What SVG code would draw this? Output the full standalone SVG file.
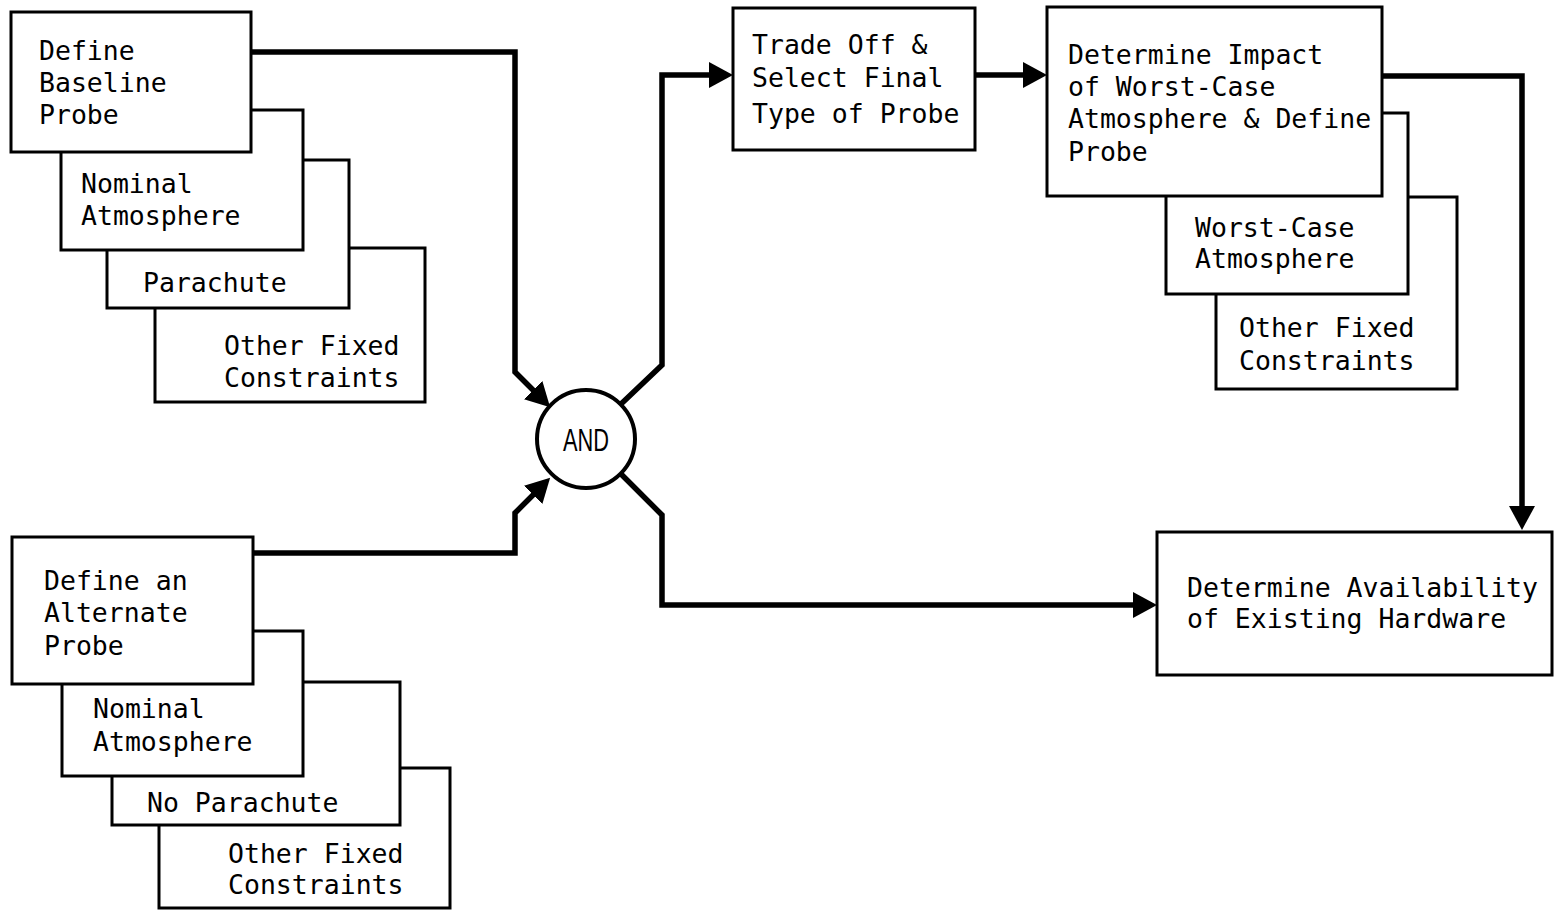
<svg xmlns="http://www.w3.org/2000/svg" width="1554" height="911" viewBox="0 0 1554 911">
<style>
.box{fill:#fff;stroke:#000;stroke-width:3}
.t{font-family:"DejaVu Sans Mono","Liberation Mono",monospace;font-size:26.5px;fill:#000}
.c{fill:none;stroke:#000;stroke-width:5.5;stroke-linejoin:miter}
</style>
<defs>
<marker id="ah" markerUnits="userSpaceOnUse" markerWidth="26" markerHeight="28" refX="4" refY="13" orient="auto">
<path d="M0,0 L24,13 L0,26 z" fill="#000"/>
</marker>
</defs>
<rect width="1554" height="911" fill="#fff"/>
<g id="connectors">
<path class="c" d="M251,52 H515 V372 L536,393" marker-end="url(#ah)"/>
<path class="c" d="M253,553 H515 V513 L536,492" marker-end="url(#ah)"/>
<path class="c" d="M621,404 L662,365 V75 H713" marker-end="url(#ah)"/>
<path class="c" d="M621,474 L662,515 V605 H1137" marker-end="url(#ah)"/>
<path class="c" d="M975,75 H1027" marker-end="url(#ah)"/>
<path class="c" d="M1382,76 H1522 V510" marker-end="url(#ah)"/>
</g>
<g id="baseline-other">
<rect class="box" x="155" y="248" width="270" height="154"/>
<text class="t" x="224" y="355">Other Fixed</text>
<text class="t" x="224" y="387">Constraints</text>
</g>
<g id="baseline-parachute">
<rect class="box" x="107" y="160" width="242" height="148"/>
<text class="t" x="143" y="292">Parachute</text>
</g>
<g id="baseline-atmosphere">
<rect class="box" x="61" y="110" width="242" height="140"/>
<text class="t" x="81" y="193">Nominal</text>
<text class="t" x="81" y="225">Atmosphere</text>
</g>
<g id="baseline-probe">
<rect class="box" x="11" y="12" width="240" height="140"/>
<text class="t" x="39" y="60">Define</text>
<text class="t" x="39" y="92">Baseline</text>
<text class="t" x="39" y="124">Probe</text>
</g>
<g id="alt-other">
<rect class="box" x="159" y="768" width="291" height="140"/>
<text class="t" x="228" y="863">Other Fixed</text>
<text class="t" x="228" y="894">Constraints</text>
</g>
<g id="alt-noparachute">
<rect class="box" x="112" y="682" width="288" height="143"/>
<text class="t" x="147" y="812">No Parachute</text>
</g>
<g id="alt-atmosphere">
<rect class="box" x="62" y="631" width="241" height="145"/>
<text class="t" x="93" y="718">Nominal</text>
<text class="t" x="93" y="751">Atmosphere</text>
</g>
<g id="alt-probe">
<rect class="box" x="12" y="537" width="241" height="147"/>
<text class="t" x="44" y="590">Define an</text>
<text class="t" x="44" y="622">Alternate</text>
<text class="t" x="44" y="655">Probe</text>
</g>
<g id="and">
<circle cx="586" cy="439" r="49" fill="#fff" stroke="#000" stroke-width="4"/>
<text x="586" y="451" text-anchor="middle" font-family="Liberation Sans, Arial, sans-serif" font-size="32" textLength="46" lengthAdjust="spacingAndGlyphs">AND</text>
</g>
<g id="tradeoff">
<rect class="box" x="733" y="8" width="242" height="142"/>
<text class="t" x="752" y="54">Trade Off &amp;</text>
<text class="t" x="752" y="87">Select Final</text>
<text class="t" x="752" y="123">Type of Probe</text>
</g>
<g id="worst-other">
<rect class="box" x="1216" y="197" width="241" height="192"/>
<text class="t" x="1239" y="337">Other Fixed</text>
<text class="t" x="1239" y="370">Constraints</text>
</g>
<g id="worst-atmosphere">
<rect class="box" x="1166" y="113" width="242" height="181"/>
<text class="t" x="1195" y="237">Worst-Case</text>
<text class="t" x="1195" y="268">Atmosphere</text>
</g>
<g id="impact">
<rect class="box" x="1047" y="7" width="335" height="189"/>
<text class="t" x="1068" y="64">Determine Impact</text>
<text class="t" x="1068" y="96">of Worst-Case</text>
<text class="t" x="1068" y="128">Atmosphere &amp; Define</text>
<text class="t" x="1068" y="161">Probe</text>
</g>
<g id="availability">
<rect class="box" x="1157" y="532" width="395" height="143"/>
<text class="t" x="1187" y="597">Determine Availability</text>
<text class="t" x="1187" y="628">of Existing Hardware</text>
</g>
</svg>
